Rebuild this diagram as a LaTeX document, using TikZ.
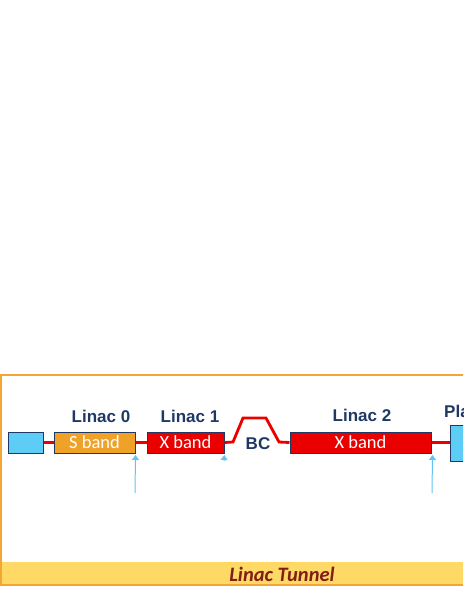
\documentclass[tikz,border=0pt]{standalone}
\usepackage{fontspec}
\setmainfont{Liberation Sans}
\newfontfamily\carl{Carlito}
\usetikzlibrary{arrows.meta}
\definecolor{navy}{RGB}{31,56,100}
\definecolor{lblue}{RGB}{93,205,245}
\definecolor{sorange}{RGB}{240,162,40}
\definecolor{beamred}{RGB}{235,0,0}
\definecolor{frameor}{RGB}{245,165,50}
\definecolor{tunyel}{RGB}{255,217,102}
\definecolor{tunred}{RGB}{130,30,20}
\definecolor{arrblue}{RGB}{100,195,240}
\tikzset{
  cell/.style={draw=navy, line width=1pt, minimum height=21pt, inner sep=0pt, font=\carl\fontsize{18.5}{18}\selectfont, text=white},
  lbl/.style={text=navy, font=\bfseries\fontsize{17}{18}\selectfont, inner sep=0pt},
  beam/.style={draw=beamred, line width=2.8pt},
  diag/.style={draw=arrblue, line width=1pt, -{Triangle[width=7pt,length=5pt]}}
}
\begin{document}
\begin{tikzpicture}[x=1pt,y=-1pt]
\useasboundingbox (0,0) rectangle (463,599);
\clip (0,0) rectangle (463,599);
\fill[tunyel] (2,562) rectangle (470,584);
\draw[frameor, line width=1.5pt] (480,375) -- (1,375) -- (1,585) -- (480,585);
\node[font=\carl\bfseries\itshape\fontsize{20.5}{20}\selectfont, text=tunred, inner sep=0pt] (tun) at (282,574) {Linac Tunnel};
% beam
\coordinate (c1) at (233,442);
\coordinate (c2) at (243,418);
\coordinate (c3) at (266,418);
\coordinate (c4) at (279,442);
\node[cell, fill=lblue, minimum width=35pt] (inj) at (25.5,442.5) {};
\node[cell, fill=sorange, minimum width=81pt] (sb) at (94.5,442.5) {S band};
\node[cell, fill=beamred, minimum width=77pt] (xb1) at (185.5,442.5) {X band};
\node[cell, fill=beamred, minimum width=141pt] (xb2) at (360.5,442.5) {X band};
\node[cell, fill=lblue, minimum width=40pt, minimum height=36pt, anchor=north west] (pl) at (450,425) {};
\draw[beam] (inj.east) -- (sb.west);
\draw[beam] (sb.east) -- (xb1.west);
\draw[beam] (xb1.east) -- (c1) -- (c2) -- (c3) -- (c4) -- (xb2.west);
\draw[beam] (xb2.east) -- (pl.west |- xb2.east);
% labels
\node[lbl] (l0) at (101,416) {Linac 0};
\node[lbl] (l1) at (190,416) {Linac 1};
\node[lbl] (l2) at (362,415) {Linac 2};
\node[lbl] (bc) at (258,444) {BC};
\node[lbl, anchor=west] (pla) at (444,411) {Pla};
% diagnostics arrows
\coordinate (a0) at (135,493);
\coordinate (a2) at (432,493);
\coordinate (a1) at (224,461);
\draw[diag] (a0) -- ([yshift=-1.5pt]sb.south east);
\draw[diag] (a2) -- ([xshift=1pt,yshift=-1.5pt]xb2.south east);
\draw[diag] (a1) -- ([yshift=-1.5pt]xb1.south east);
\end{tikzpicture}
\end{document}
